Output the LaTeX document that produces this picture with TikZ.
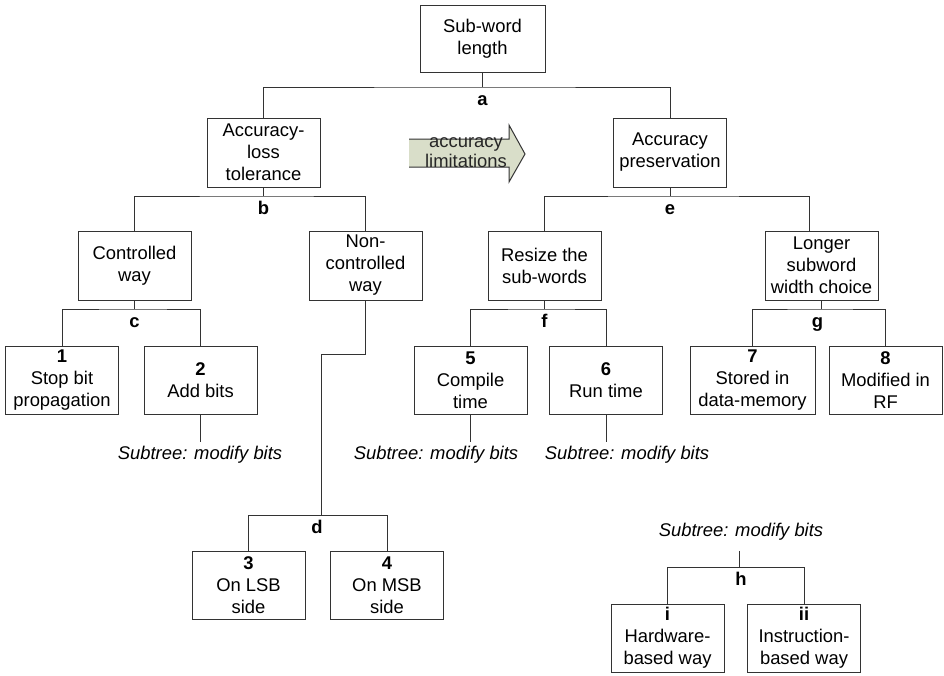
\documentclass[tikz,border=0pt]{standalone}
\usepackage{fontspec}
\setmainfont{Liberation Sans}
\definecolor{limfill}{RGB}{217,222,201}

\begin{document}
\begin{tikzpicture}[x=1pt, y=-1pt,
        wire/.style={draw=black!80, line width=1pt},
        box/.style={draw=black!80, line width=1pt, minimum width=113pt, minimum height=68pt,
            inner sep=1pt, align=center, font=\fontsize{18.4}{22}\selectfont},
        lbl/.style={anchor=base, inner sep=0pt, yshift=-18pt, font=\fontsize{18.4}{22}\selectfont\bfseries},
        sub/.style={inner sep=4pt, font=\fontsize{18.4}{22}\selectfont\itshape}]
        \useasboundingbox (0,0) rectangle (944,675);

        \node[box, minimum width=125pt, minimum height=67pt] (root) at (482.5,38.5) {Sub-word\\length};
        \node[box, minimum height=69pt] (alt) at (263.5,152.5) {Accuracy-\\loss\\tolerance};
        \node[box, minimum height=69pt] (pres) at (670,152.5) {Accuracy\\preservation};
        \node[box, minimum height=69pt] (ctrl) at (134.5,265.5) {Controlled\\way};
        \node[box, minimum height=69pt] (nonctrl) at (365.5,265.5) {Non-\\controlled\\way};
        \node[box, minimum height=69pt] (resize) at (544.5,265.5) {Resize the\\sub-words};
        \node[box, minimum height=69pt] (longer) at (821.5,265.5) {Longer\\subword\\width choice};

        \node[box] (n1) at (62,380) {\textbf{1}\\Stop bit\\propagation};
        \node[box] (n2) at (200.5,380) {\textbf{2}\\Add bits};
        \node[box] (n5) at (470.5,380) {\textbf{5}\\Compile\\time};
        \node[box] (n6) at (606,380) {\textbf{6}\\Run time};
        \node[box, minimum width=125pt] (n7) at (752.5,380) {\textbf{7}\\Stored in\\data-memory};
        \node[box] (n8) at (885.5,380) {\textbf{8}\\Modified in\\RF};
        \node[box] (n3) at (248.5,585) {\textbf{3}\\On LSB\\side};
        \node[box] (n4) at (387,585) {\textbf{4}\\On MSB\\side};
        \node[box] (ni) at (667.5,638) {\textbf{i}\\Hardware-\\based way};
        \node[box] (nii) at (804,638) {\textbf{ii}\\Instruction-\\based way};

        \node[sub] (st2) at (200,455) {Subtree: modify bits};
        \node[sub] (st5) at (436,455) {Subtree: modify bits};
        \node[sub] (st6) at (627,455) {Subtree: modify bits};
        \node[sub] (sth) at (741,532) {Subtree: modify bits};

        \fill[limfill] (409,139) -- (509,139) -- (509,125) -- (525,154) -- (509,182) -- (509,167) -- (409,167) -- cycle;
        \draw[wire] (409,139) -- (509,139) -- (509,125) -- (525,154) -- (509,182) -- (509,167) -- (409,167);
        \node[align=center, inner sep=0pt, text=black!85, font=\fontsize{18.4}{20}\selectfont] (lim) at (466,153) {accuracy\\limitations};

        \coordinate (a) at (482.5,87);
        \coordinate (b) at (263.5,196);
        \coordinate (e) at (670,196);
        \coordinate (c) at (134.5,309);
        \coordinate (f) at (544.5,309);
        \coordinate (g) at (821.5,309);
        \coordinate (d) at (321,515);
        \coordinate (h) at (739,567);

        \draw[wire] (root) -- (a);
        \draw[wire] (alt.north) |- (a) -| (pres.north);
        \draw[wire] (alt) -- (b);
        \draw[wire] (ctrl.north) |- (b) -| (nonctrl.north);
        \draw[wire] (pres) -- (e);
        \draw[wire] (resize.north) |- (e) -| ([xshift=-12.5pt]longer.north);
        \draw[wire] (ctrl) -- (c);
        \draw[wire] (n1.north) |- (c) -| (n2.north);
        \draw[wire] (resize) -- (f);
        \draw[wire] (n5.north) |- (f) -| (n6.north);
        \draw[wire] (longer) -- (g);
        \draw[wire] (n7.north) |- (g) -| (n8.north);
        \draw[wire] (nonctrl.south) -- ++(0,54) -| (d);
        \draw[wire] (n3.north) |- (d) -| (n4.north);
        \draw[wire] ([yshift=-6pt]sth.south -| h) -- (h);
        \draw[wire] (ni.north) |- (h) -| (nii.north);

        \draw[wire] (n2.south) -- (n2.south |- st2.north);
        \draw[wire] (n5.south) -- (n5.south |- st5.north);
        \draw[wire] (n6.south) -- (n6.south |- st6.north);

        \node[lbl] (la) at (a) {a};
        \node[lbl] (lb) at (b) {b};
        \node[lbl] (lc) at (c) {c};
        \node[lbl, xshift=-4pt] (ld) at (d) {d};
        \node[lbl] (le) at (e) {e};
        \node[lbl] (lf) at (f) {f};
        \node[lbl, xshift=-4pt] (lg) at (g) {g};
        \node[lbl, xshift=2pt] (lh) at (h) {h};
    \end{tikzpicture}
\end{document}
